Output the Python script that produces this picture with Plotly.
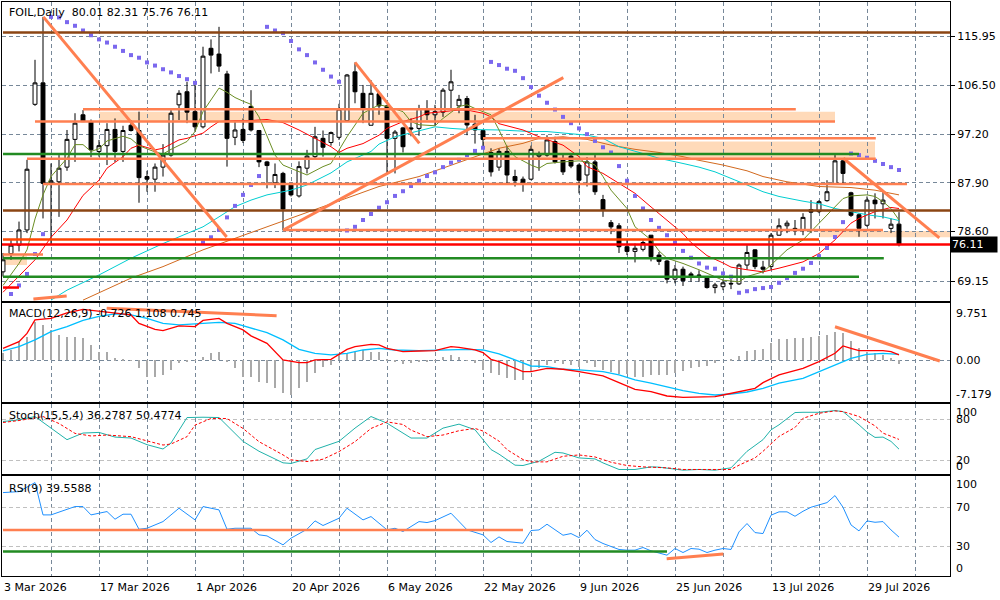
import plotly.graph_objects as go
from plotly.subplots import make_subplots

# ---------------- data ----------------
bars = list(range(113))
opens = [70.9, 74.4, 76.0, 78.9, 102.9, 107.0, 87.9, 88.1, 90.9, 96.2,
         100.9, 99.6, 93.9, 95.0, 98.1, 93.9, 98.9, 97.9, 89.1, 88.6,
         90.9, 93.2, 102.8, 105.3, 101.5, 98.6, 113.6, 112.5, 108.7, 96.6,
         98.1, 102.5, 97.9, 91.9, 87.9, 89.7, 87.5, 85.4, 90.7, 92.9,
         96.4, 95.6, 96.6, 99.8, 109.1, 105.0, 98.9, 104.9, 102.6, 96.4,
         98.4, 98.4, 98.3, 102.1, 100.9, 101.4, 105.6, 102.6, 104.0, 99.1,
         97.9, 93.7, 90.9, 93.9, 89.1, 88.6, 88.6, 93.0, 93.2, 95.8,
         92.3, 93.0, 91.3, 89.4, 91.9, 84.7, 80.3, 79.7, 75.7, 74.8,
         75.2, 77.9, 74.1, 72.97, 69.5, 71.4, 70.5, 70.3, 69.7, 67.9,
         68.07, 68.7, 68.6, 72.2, 75.1, 71.8, 71.9, 77.9, 79.7, 79.2,
         78.8, 82.8, 82.4, 84.5, 87.7, 92.1, 86.0, 81.8, 79.8, 84.6,
         83.9, 79.2, 80.01]
highs = [74.5, 77.0, 80.5, 92.3, 111.4, 119.6, 91.6, 93.2, 98.0, 101.2,
         101.8, 100.0, 96.1, 99.3, 100.2, 98.8, 99.9, 101.5, 90.2, 91.6,
         95.3, 101.8, 105.6, 107.2, 107.2, 113.9, 115.3, 117.7, 109.3, 99.6,
         100.2, 105.6, 98.0, 92.1, 91.6, 90.0, 87.9, 92.0, 94.2, 98.6,
         97.9, 97.7, 103.0, 108.7, 110.9, 106.6, 107.5, 104.9, 102.8, 98.0,
         98.6, 100.2, 102.8, 103.7, 102.8, 106.0, 109.5, 104.7, 104.5, 100.9,
         98.0, 94.5, 94.5, 95.0, 90.4, 89.1, 95.0, 93.9, 97.0, 96.7,
         93.5, 93.4, 91.6, 92.8, 93.2, 85.6, 80.8, 80.2, 77.0, 76.3,
         76.9, 77.9, 74.7, 73.2, 72.2, 71.9, 70.9, 71.2, 70.0, 68.8,
         69.5, 69.5, 72.5, 76.0, 75.2, 73.0, 78.3, 81.1, 80.7, 80.8,
         82.1, 84.6, 84.6, 88.4, 93.2, 92.4, 86.2, 82.1, 85.3, 85.9,
         86.2, 81.1, 82.31]
lows = [70.0, 73.2, 74.8, 78.3, 102.6, 81.1, 76.0, 81.4, 90.2, 91.9,
        99.5, 92.8, 92.9, 91.3, 91.9, 91.9, 97.7, 84.1, 86.2, 86.2,
        89.1, 92.9, 99.9, 99.3, 97.7, 98.3, 108.8, 109.1, 91.0, 95.1,
        95.5, 97.7, 90.9, 86.85, 86.9, 78.8, 85.3, 85.1, 89.7, 92.3,
        92.9, 95.0, 96.1, 99.6, 103.1, 99.3, 98.9, 100.9, 89.4, 89.7,
        93.7, 96.8, 96.9, 99.9, 98.8, 100.5, 102.1, 101.2, 97.0, 95.4,
        94.8, 89.1, 90.2, 87.8, 87.2, 86.2, 88.4, 90.2, 92.9, 91.6,
        89.4, 90.7, 85.9, 87.2, 85.6, 81.4, 78.1, 74.5, 74.1, 72.7,
        74.8, 72.9, 72.2, 68.7, 68.7, 68.2, 69.0, 69.0, 67.7, 66.8,
        67.4, 67.6, 68.4, 71.3, 71.4, 70.6, 71.3, 77.8, 78.3, 77.9,
        77.9, 78.3, 82.1, 84.3, 87.5, 87.7, 81.4, 77.6, 79.5, 81.1,
        81.1, 78.3, 75.76]
closes = [73.2, 76.0, 78.9, 90.5, 107.0, 87.8, 88.3, 90.7, 96.2, 99.3,
          99.6, 94.2, 95.0, 98.1, 93.9, 97.9, 97.9, 88.9, 88.6, 90.9,
          93.2, 101.2, 105.0, 101.4, 98.6, 112.1, 112.3, 110.2, 96.4, 98.0,
          96.0, 98.0, 91.9, 91.2, 89.5, 82.9, 85.6, 91.0, 93.0, 96.7,
          94.7, 97.5, 102.0, 108.5, 105.3, 101.9, 105.0, 102.6, 96.4, 97.6,
          94.8, 98.2, 102.1, 100.9, 101.5, 105.6, 107.2, 103.85, 98.95, 98.0,
          96.2, 90.0, 93.9, 89.4, 88.3, 87.9, 94.3, 93.4, 96.1, 91.9,
          90.0, 91.1, 88.4, 91.9, 86.2, 82.7, 79.5, 75.7, 74.8, 75.4,
          76.5, 73.8, 72.9, 69.5, 71.4, 69.2, 70.0, 70.2, 67.9, 68.4,
          68.8, 68.6, 72.2, 74.6, 71.9, 71.4, 77.9, 79.7, 80.2, 79.1,
          81.3, 82.3, 84.3, 86.2, 92.1, 89.7, 81.7, 79.2, 84.6, 83.9,
          84.6, 80.0, 76.11]
last_price = 76.11

date_tick_bars = [0, 12, 24, 36, 48, 60, 72, 84, 96, 108]
date_tick_labels = ["3 Mar 2026", "17 Mar 2026", "1 Apr 2026", "20 Apr 2026", "6 May 2026",
                    "22 May 2026", "9 Jun 2026", "25 Jun 2026", "13 Jul 2026", "29 Jul 2026"]
grid_bars = list(range(0, 119, 6))

price_ticks = [115.95, 106.50, 97.20, 87.90, 78.60, 69.15]
price_tick_labels = ["115.95", "106.50", "97.20", "87.90", "78.60", "69.15"]

# moving averages (bar, value)
ma_fast_bars = [0, 2, 3, 4, 5, 6, 8, 9, 10, 11, 12, 13, 15, 16, 17, 19, 20, 21, 23, 24, 25, 26, 27, 28, 29, 30,
                31, 32, 33, 34, 35, 36, 38, 39, 40, 41, 43, 45, 47, 48, 50, 51, 52, 54, 55, 57, 58, 59, 61, 62,
                63, 64, 66, 67, 68, 70, 72, 73, 74, 75, 76, 78, 79, 81, 82, 83, 85, 87, 89, 90, 92, 93, 95, 96,
                98, 100, 101, 102, 104, 105, 106, 108, 109, 110, 111, 112]
ma_fast_vals = [68.3, 72.5, 75.1, 81.0, 85.6, 89.1, 92.6, 95.2, 95.2, 93.9, 94.4, 95.9, 96.8, 96.3, 95.0, 93.8,
                93.4, 94.3, 95.8, 97.7, 101.5, 103.7, 106.0, 105.2, 104.2, 103.5, 102.9, 100.5, 96.7, 93.2, 91.3,
                90.7, 89.4, 90.2, 91.0, 91.6, 96.7, 101.2, 102.8, 102.5, 101.5, 99.6, 99.0, 98.8, 100.2, 102.5,
                102.8, 102.1, 100.9, 98.0, 94.8, 92.9, 91.3, 90.7, 91.6, 91.9, 92.1, 91.9, 91.3, 89.1, 86.5, 83.0,
                79.5, 77.0, 74.9, 73.5, 72.5, 71.3, 70.0, 69.3, 69.0, 70.0, 70.9, 72.2, 75.1, 77.0, 78.6, 80.2,
                83.4, 84.9, 85.4, 85.6, 85.3, 84.3, 83.0, 80.8]
ma_mid_bars = [0, 2, 4, 6, 8, 10, 12, 13, 15, 16, 17, 19, 20, 22, 23, 25, 26, 27, 29, 31, 33, 35, 37, 39, 41, 42,
               43, 45, 47, 48, 50, 52, 53, 55, 57, 58, 60, 61, 62, 65, 67, 70, 72, 73, 75, 77, 79, 81, 83, 85,
               86, 88, 90, 91, 93, 95, 97, 100, 102, 104, 106, 107, 109, 111, 112]
ma_mid_vals = [67.0, 70.0, 73.2, 77.5, 80.8, 85.5, 88.4, 90.7, 92.9, 94.5, 95.1, 94.2, 94.5, 96.1, 96.4, 97.4,
               98.6, 99.6, 99.8, 99.8, 100.0, 99.4, 98.0, 96.4, 94.8, 93.7, 94.5, 95.4, 97.0, 98.3, 99.6, 100.5,
               101.2, 101.5, 101.8, 101.8, 101.2, 100.5, 99.2, 98.0, 96.7, 95.1, 92.9, 91.0, 89.7, 87.8, 85.9,
               83.3, 80.8, 78.2, 76.5, 74.0, 72.6, 71.8, 71.3, 70.9, 71.6, 72.8, 74.4, 77.0, 80.2, 81.1, 82.4,
               83.2, 83.0]
ma_slow_bars = [6, 8, 12, 16, 20, 25, 27, 29, 31, 33, 36, 38, 41, 43, 46, 47, 49, 52, 54, 56, 58, 62, 66, 68, 70,
                73, 75, 77, 80, 82, 85, 87, 89, 91, 93, 95, 97, 100, 102, 104, 106, 108, 110, 112]
ma_slow_vals = [65.5, 67.4, 70.3, 73.5, 76.3, 79.5, 81.4, 83.35, 84.6, 85.6, 86.5, 87.5, 89.8, 91.9, 93.9, 95.3,
                96.7, 97.9, 98.6, 98.3, 98.1, 98.0, 97.7, 97.7, 97.4, 97.0, 96.4, 94.8, 93.5, 92.6, 91.6, 90.9,
                90.0, 88.8, 87.5, 86.2, 85.3, 84.4, 83.9, 83.0, 82.4, 81.8, 81.4, 80.7]
ma_long_bars = [10, 16, 20, 25, 29, 31, 35, 39, 43, 47, 52, 56, 60, 62, 65, 67, 70, 73, 76, 79, 82, 85, 87, 90,
                93, 95, 98, 102, 106, 109, 112]
ma_long_vals = [65.5, 69.7, 71.9, 75.1, 77.3, 78.4, 80.5, 82.7, 84.9, 87.2, 89.1, 91.3, 93.5, 94.5, 95.45, 96.4,
                96.7, 96.2, 95.1, 94.3, 93.7, 92.9, 92.2, 91.3, 90.2, 89.1, 88.1, 87.2, 87.0, 86.5, 85.6]

# parabolic SAR dots
sar_bars = list(range(1, 113))
sar_vals = [66.67, 68.3, 70.5, 74.3, 78.1,
            119.6, 119.5, 118.6, 117.9, 117.0, 116.1, 115.3, 114.7, 113.9, 113.1, 112.3, 111.8, 110.9, 110.3,
            109.6, 109.0, 108.3, 107.7, 107.0,
            76.5, 77.5, 78.9, 81.3, 83.5, 85.6, 87.5, 89.2,
            117.7, 117.0, 116.5, 115.0, 113.4, 112.3, 110.9, 109.5, 108.2, 107.2,
            78.8, 79.5, 80.8, 81.95, 83.15, 84.2, 85.4, 86.3, 87.3, 88.3, 89.2, 89.9, 90.9, 91.75, 92.3, 93.2,
            94.0, 94.6,
            111.0, 110.4, 109.7, 109.3, 107.9, 106.2, 104.55, 103.2, 101.9, 100.5, 99.3, 98.3, 97.2, 95.9,
            94.7, 93.7, 91.1, 88.3, 85.4, 83.0, 80.8, 79.3, 77.9, 76.5, 74.9, 73.6, 72.5, 71.7, 71.5, 70.6,
            69.97,
            66.9, 67.2, 67.6, 67.8, 68.0, 68.8, 69.7, 70.7, 71.5, 72.6, 73.9, 75.45, 77.55, 80.4,
            93.5, 93.2, 92.7, 92.1, 91.5, 90.9, 90.35]

# MACD
macd_hist = [1.5, 2.07, 3.75, 4.75, 7.76, 7.09, 6.09, 5.08, 4.75, 4.75,
             4.4, 3.08, 1.74, 1.6, 0.4, 0.07, -0.07, -1.6, -3.28, -3.28,
             -2.94, -1.94, -0.6, -0.27, -0.13, 0.6, 1.54, 1.74, -0.27, -1.6,
             -3.28, -3.28, -4.28, -4.6, -5.6, -6.5, -6.96, -5.6, -4.28, -2.6,
             -1.27, -0.94, 1.07, 1.4, 1.74, 2.07, 1.74, 1.74, 0.2, -0.27,
             -0.8, -0.6, -0.27, -0.27, -0.13, 0.6, 1.07, 0.74, -0.07, -0.6,
             -1.94, -2.6, -2.94, -3.48, -3.95, -3.95, -2.27, -1.6, -0.94, -0.6,
             -0.8, -0.94, -1.27, -0.6, -1.27, -1.94, -2.27, -2.74, -2.74, -3.41,
             -3.28, -2.94, -2.94, -2.94, -2.6, -2.14, -1.6, -1.27, -1.07, -0.6,
             0.0, 0.2, 0.87, 1.94, 2.07, 2.27, 3.41, 4.21, 4.21, 4.4,
             4.4, 4.6, 4.9, 5.08, 5.75, 5.4, 3.88, 2.4, 1.74, 1.4,
             1.07, 0.4, -0.726]
macd_red_bars = [0, 2, 3, 4, 6, 8, 10, 12, 14, 16, 17, 19, 20, 22, 24, 25, 27, 28, 30, 31, 33, 34, 35, 37, 38,
                 39, 41, 43, 44, 46, 47, 48, 50, 52, 54, 56, 57, 59, 60, 61, 62, 65, 66, 68, 70, 72, 75, 77,
                 79, 81, 83, 85, 87, 89, 90, 92, 94, 95, 97, 100, 102, 104, 105, 106, 107, 110, 111, 112]
macd_red_vals = [2.4, 3.75, 5.4, 8.1, 8.4, 9.5, 10.2, 9.8, 9.4, 9.1, 7.4, 6.2, 5.95, 6.9, 6.76, 8.0, 8.4, 7.4,
                 6.1, 4.9, 3.4, 1.74, 0.07, -0.47, -0.47, 0.07, 0.2, 2.2, 2.74, 3.2, 3.08, 2.4, 1.74, 1.87,
                 1.94, 2.74, 2.6, 2.07, 1.54, 0.2, -0.27, -2.27, -2.27, -1.6, -1.8, -2.27, -3.14, -4.48, -5.82,
                 -6.29, -7.16, -7.43, -7.43, -7.29, -6.96, -6.29, -5.62, -4.48, -2.94, -1.6, -0.27, 1.4, 2.88,
                 2.4, 1.94, 1.94, 1.74, 1.108]
macd_blue_bars = [0, 2, 4, 6, 8, 10, 12, 14, 16, 18, 20, 22, 24, 27, 29, 31, 33, 35, 37, 39, 41, 43, 45, 47, 49,
                  52, 54, 56, 58, 60, 62, 64, 66, 68, 70, 72, 75, 77, 79, 81, 83, 85, 87, 89, 91, 93, 95, 97,
                  100, 102, 104, 106, 108, 110, 112]
macd_blue_vals = [1.87, 2.74, 4.1, 5.75, 6.76, 8.0, 8.8, 9.3, 9.1, 8.4, 7.4, 7.1, 7.3, 7.6, 7.4, 6.4, 5.55, 4.1,
                  2.2, 1.4, 1.07, 1.4, 2.07, 2.4, 2.07, 1.94, 2.07, 2.2, 2.2, 2.07, 1.3, 0.07, -1.14, -1.27,
                  -1.8, -1.94, -2.27, -2.94, -3.95, -4.6, -5.42, -6.09, -6.62, -6.96, -6.76, -6.36, -5.62, -4.6,
                  -3.61, -2.27, -0.94, 0.4, 1.2, 1.4, 1.2]
macd_tick_vals = [9.751, 0.0, -7.179]
macd_tick_labels = ["9.751", "0.00", "-7.179"]

# Stochastic
stoch_main_bars = [0, 2, 4, 6, 8, 10, 12, 14, 16, 18, 20, 21, 23, 25, 27, 30, 32, 35, 36, 38, 39, 42, 44, 46,
                   48, 51, 53, 55, 57, 59, 61, 62, 64, 65, 67, 69, 70, 72, 74, 75, 77, 79, 81, 82, 84, 85, 87,
                   89, 91, 93, 95, 96, 97, 99, 100, 102, 104, 105, 107, 108, 109, 110, 111, 112]
stoch_main_vals = [76.6, 79.0, 83.9, 67.0, 50.1, 59.8, 60.7, 53.9, 52.5, 42.8, 36.5, 45.2, 82.4, 82.9, 82.4,
                   47.7, 33.2, 16.3, 15.4, 22.1, 35.7, 47.7, 67.0, 83.9, 74.2, 52.5, 52.5, 67.0, 72.8, 64.6,
                   35.7, 29.0, 12.9, 12.4, 18.7, 31.7, 30.7, 23.5, 22.0, 16.2, 6.6, 6.6, 10.4, 10.0, 6.6, 5.6,
                   6.6, 5.6, 9.0, 33.1, 50.1, 64.5, 71.8, 89.7, 90.1, 90.1, 92.6, 91.1, 71.8, 61.2, 53.4, 53.9,
                   47.6, 36.28]
stoch_sig_bars = [0, 2, 5, 7, 9, 11, 13, 16, 20, 21, 23, 24, 26, 28, 30, 32, 35, 36, 38, 40, 42, 44, 46, 48, 50,
                  51, 53, 55, 57, 59, 60, 62, 63, 65, 66, 68, 70, 72, 74, 76, 78, 80, 83, 85, 88, 91, 92, 94,
                  95, 97, 99, 100, 102, 104, 105, 107, 109, 110, 112]
stoch_sig_vals = [75.2, 78.1, 83.9, 73.7, 59.3, 55.5, 56.9, 54.5, 42.3, 43.8, 54.5, 71.4, 81.0, 81.0, 66.5,
                  47.2, 27.9, 20.7, 18.2, 21.6, 32.7, 47.2, 66.5, 76.1, 72.3, 64.1, 54.5, 56.9, 63.2, 66.5,
                  62.7, 48.0, 35.6, 21.1, 17.7, 17.7, 25.9, 27.8, 24.9, 17.2, 12.4, 10.4, 9.0, 6.6, 6.6, 6.6,
                  12.9, 23.5, 33.1, 54.9, 67.9, 81.4, 88.7, 92.1, 91.1, 83.9, 70.3, 59.7, 50.48]
stoch_levels = [80, 20]
stoch_labels = [100, 80, 20, 0]

# RSI
rsi_bars = [0, 2, 4, 5, 6, 8, 9, 10, 11, 13, 14, 15, 16, 17, 18, 20, 22, 24, 25, 27, 28, 29, 31, 32, 33, 35, 36,
            38, 39, 40, 41, 42, 43, 45, 46, 48, 49, 50, 52, 53, 54, 56, 58, 60, 61, 62, 63, 65, 66, 67, 68, 70,
            71, 72, 73, 74, 75, 77, 78, 79, 80, 81, 83, 84, 85, 86, 87, 88, 89, 90, 91, 92, 93, 94, 95, 96, 97,
            98, 99, 100, 101, 103, 104, 105, 106, 107, 108, 109, 110, 111, 112]
rsi_vals = [84.9, 85.9, 95.1, 62.2, 62.2, 68.0, 70.7, 70.7, 62.2, 65.6, 57.8, 62.9, 62.9, 47.6, 48.6, 55.4,
            69.0, 57.1, 70.7, 67.3, 47.6, 48.6, 48.6, 41.9, 40.8, 31.7, 38.5, 47.6, 56.1, 51.4, 55.4, 58.8,
            69.0, 57.1, 60.5, 47.0, 48.6, 45.3, 55.4, 54.4, 56.4, 63.9, 47.0, 41.9, 34.1, 39.8, 35.1, 33.4,
            46.3, 46.9, 52.7, 41.5, 43.2, 39.1, 46.6, 37.1, 33.1, 27.0, 26.3, 26.3, 29.0, 25.6, 21.2, 28.0,
            23.9, 28.0, 27.3, 23.9, 26.3, 28.0, 27.0, 44.9, 53.4, 44.2, 43.2, 61.9, 65.3, 65.3, 60.8, 65.9,
            70.0, 74.7, 81.9, 70.0, 52.0, 45.9, 56.1, 54.7, 55.4, 46.9, 39.56]
rsi_levels = [70, 30]
rsi_labels = [100, 70, 30, 0]

# drawn objects: horizontal levels (price, from bar, to bar, kind)
level_prices = [116.6, 101.95, 99.6, 96.4, 93.4, 92.5, 87.7, 82.6, 78.9, 77.1, 73.5, 69.97, 74.2, 67.9]
level_from = [0, 10.0, 4.0, 60.0, 0, 3.0, 5.0, 0, 35.0, 0, 0, 0, 0, 0]
level_to = [118.375, 99.1, 104.0, 109.1, 107.0, 109.1, 113.0, 118.375, 110.0, 102.0, 110.1, 107.0, 5.0, 2.0]
level_kind = ["brown", "coral", "coral", "coral", "green", "coral", "coral", "brown", "coral", "orangered",
              "green", "green", "coral", "red"]
zone_top = [101.5, 95.8, 78.7, 74.0]
zone_bottom = [99.6, 92.6, 77.5, 72.2]
zone_from = [12.0, 60.0, 102.1, 0]
zone_to = [104.0, 109.0, 118.375, 3.0]
trend_x0 = [5.04, 44.0, 35.04, 105.04, 3.8]
trend_y0 = [119.6, 110.9, 78.9, 92.6, 65.7]
trend_x1 = [27.96, 52.04, 70.04, 117.04, 7.96]
trend_y1 = [77.55, 95.45, 107.99, 77.4, 66.3]
macd_trend_x0 = [12.96, 104.0]
macd_trend_y0 = [10.43, 6.74]
macd_trend_x1 = [34.2, 117.1]
macd_trend_y1 = [8.95, -0.14]
rsi_line_vals = [46.9, 24.9]
rsi_line_from = [0, 0]
rsi_line_to = [65.0, 83.0]
rsi_line_kind = ["coral", "green"]
rsi_trend_x0, rsi_trend_y0, rsi_trend_x1, rsi_trend_y1 = 82.96, 17.5, 90.04, 22.5

title_text = "FOIL,Daily\u00a0\u00a080.01 82.31 75.76 76.11"
macd_text = "MACD(12,26,9) -0.726 1.108 0.745"
stoch_text = "Stoch(15,5,4) 36.2787 50.4774"
rsi_text = "RSI(9) 39.5588"

# ---------------- styles ----------------
COL = {"brown": "#8B4513", "coral": "#FF7F50", "green": "#228B22", "orangered": "#FF4500", "red": "#FF0000"}
ZONE_FILL = "#FFDAB9"
FONT = "DejaVu Sans"
GRID = "#778899"
LIGHTGRID = "#C0C0C0"
X_RANGE = [-0.125, 118.375]

fig = make_subplots(rows=4, cols=1, shared_xaxes=True, vertical_spacing=0.01)

fig.add_trace(go.Candlestick(
    x=bars, open=opens, high=highs, low=lows, close=closes,
    increasing=dict(line=dict(color="black", width=1), fillcolor="white"),
    decreasing=dict(line=dict(color="black", width=1), fillcolor="black"),
    whiskerwidth=0, hoverinfo="skip"), row=1, col=1)

for bx, vy, c in [(ma_long_bars, ma_long_vals, "#D2691E"), (ma_slow_bars, ma_slow_vals, "#00CED1"),
                  (ma_mid_bars, ma_mid_vals, "#FF0000"), (ma_fast_bars, ma_fast_vals, "#6B8E23")]:
    fig.add_trace(go.Scatter(x=bx, y=vy, mode="lines", line=dict(color=c, width=1)), row=1, col=1)

fig.add_trace(go.Scatter(x=sar_bars, y=sar_vals, mode="markers",
                         marker=dict(symbol="square", size=4, color="#7B68EE")), row=1, col=1)

fig.add_trace(go.Bar(x=bars, y=macd_hist, width=0.16, marker=dict(color="#A9A9A9", line=dict(width=0))),
              row=2, col=1)
fig.add_trace(go.Scatter(x=macd_blue_bars, y=macd_blue_vals, mode="lines", line=dict(color="#00BFFF", width=1.3)),
              row=2, col=1)
fig.add_trace(go.Scatter(x=macd_red_bars, y=macd_red_vals, mode="lines", line=dict(color="#FF0000", width=1.3)),
              row=2, col=1)

fig.add_trace(go.Scatter(x=stoch_main_bars, y=stoch_main_vals, mode="lines",
                         line=dict(color="#20B2AA", width=1)), row=3, col=1)
fig.add_trace(go.Scatter(x=stoch_sig_bars, y=stoch_sig_vals, mode="lines",
                         line=dict(color="#FF0000", width=1, dash="3px,2px")), row=3, col=1)

fig.add_trace(go.Scatter(x=rsi_bars, y=rsi_vals, mode="lines", line=dict(color="#1E90FF", width=1)),
              row=4, col=1)

shapes = []
for t, b, x0, x1 in zip(zone_top, zone_bottom, zone_from, zone_to):
    shapes.append(dict(type="rect", xref="x", yref="y", x0=x0, x1=x1, y0=b, y1=t,
                       fillcolor=ZONE_FILL, line=dict(width=0), layer="below"))
for p, x0, x1, k in zip(level_prices, level_from, level_to, level_kind):
    shapes.append(dict(type="line", xref="x", yref="y", x0=x0, x1=x1, y0=p, y1=p,
                       line=dict(color=COL[k], width=2.5), layer="above"))
shapes.append(dict(type="line", xref="x", yref="y", x0=X_RANGE[0], x1=X_RANGE[1], y0=last_price, y1=last_price,
                   line=dict(color=COL["red"], width=2.5), layer="above"))
for x0, y0, x1, y1 in zip(trend_x0, trend_y0, trend_x1, trend_y1):
    shapes.append(dict(type="line", xref="x", yref="y", x0=x0, x1=x1, y0=y0, y1=y1,
                       line=dict(color=COL["coral"], width=3), layer="above"))
for x0, y0, x1, y1 in zip(macd_trend_x0, macd_trend_y0, macd_trend_x1, macd_trend_y1):
    shapes.append(dict(type="line", xref="x2", yref="y2", x0=x0, x1=x1, y0=y0, y1=y1,
                       line=dict(color=COL["coral"], width=3), layer="above"))
for v, x0, x1, k in zip(rsi_line_vals, rsi_line_from, rsi_line_to, rsi_line_kind):
    shapes.append(dict(type="line", xref="x4", yref="y4", x0=x0, x1=x1, y0=v, y1=v,
                       line=dict(color=COL[k], width=2.5), layer="above"))
shapes.append(dict(type="line", xref="x4", yref="y4", x0=rsi_trend_x0, x1=rsi_trend_x1,
                   y0=rsi_trend_y0, y1=rsi_trend_y1, line=dict(color=COL["coral"], width=3), layer="above"))

# ---------------- layout ----------------
W, H = 1000, 600
ML, MR, MT, MB = 2, 50, 2, 24
PH = H - MT - MB
PW = W - ML - MR


def py(y_pix):
    return (H - MB - y_pix) / PH


def px(x_pix):
    return (x_pix - ML) / PW


STOCH_RANGE = [0.0, 102.2]
RSI_RANGE = [0.0, 101.8]

annotations = []
for txt, ypix in [(title_text, 12.5), (macd_text, 313.5), (stoch_text, 415.5), (rsi_text, 488)]:
    annotations.append(dict(text=txt, xref="paper", yref="paper", x=px(7), y=py(ypix), xanchor="left",
                            yanchor="middle", showarrow=False, font=dict(family=FONT, size=11, color="black")))
for b, lab in zip(date_tick_bars, date_tick_labels):
    annotations.append(dict(text=lab, xref="x4", yref="paper", x=b, y=py(587), xanchor="left", xshift=-1,
                            yanchor="middle", showarrow=False, font=dict(family=FONT, size=11, color="black")))
for v, lab in zip(macd_tick_vals, macd_tick_labels):
    annotations.append(dict(text=lab, xref="paper", yref="y2", x=1, y=v, xanchor="left", xshift=4,
                            yshift=(-2 if v > 5 else (2 if v < -5 else 0)),
                            yanchor="middle", showarrow=False, font=dict(family=FONT, size=11, color="black")))


def panel_label(v, yref, lo, hi):
    # labels at the panel edges sit a little inside the frame, as in the terminal
    yv = min(max(v, lo + 0.5), hi - 0.5)
    shift = -7 if v >= 100 else (7 if v <= 0 else 0)
    return dict(text=str(v), xref="paper", yref=yref, x=1, y=yv, xanchor="left", xshift=4, yshift=shift,
                yanchor="middle", showarrow=False, font=dict(family=FONT, size=11, color="black"))


for v in stoch_labels:
    annotations.append(panel_label(v, "y3", *STOCH_RANGE))
for v in rsi_labels:
    annotations.append(panel_label(v, "y4", *RSI_RANGE))
annotations.append(dict(text=f"{last_price:.2f}", xref="paper", yref="y", x=1, y=last_price, xanchor="left",
                        yanchor="middle", showarrow=False, bgcolor="black", width=44, align="left",
                        borderpad=1, font=dict(family=FONT, size=11, color="white")))

axis_common = dict(showline=True, mirror=True, linecolor="black", linewidth=1, zeroline=False)
xaxis_common = dict(axis_common, range=X_RANGE, tickvals=grid_bars, showticklabels=False, showgrid=True,
                    gridcolor=GRID, griddash="4px,3px", gridwidth=1, ticks="")

fig.update_layout(
    width=W, height=H, margin=dict(l=ML, r=MR, t=MT, b=MB),
    paper_bgcolor="white", plot_bgcolor="white", showlegend=False,
    font=dict(family=FONT, size=11, color="black"),
    bargap=0, shapes=shapes, annotations=annotations,
    xaxis=dict(xaxis_common, rangeslider=dict(visible=False)),
    xaxis2=dict(xaxis_common), xaxis3=dict(xaxis_common), xaxis4=dict(xaxis_common),
    yaxis=dict(axis_common, domain=[py(301), 1.0], range=[65.33, 122.445], side="right",
               tickvals=price_ticks, ticktext=price_tick_labels, ticks="outside", ticklen=4, tickcolor="black",
               showgrid=True, gridcolor=GRID, griddash="4px,3px", tickfont=dict(family=FONT, size=11)),
    yaxis2=dict(axis_common, domain=[py(402), py(303)], range=[-8.365, 11.494], side="right",
                tickvals=[0], showticklabels=False, ticks="", showgrid=True, gridcolor=GRID,
                griddash="4px,3px"),
    yaxis3=dict(axis_common, domain=[py(474), py(404)], range=STOCH_RANGE, side="right",
                tickvals=stoch_levels, showticklabels=False, ticks="", showgrid=True, gridcolor=LIGHTGRID,
                griddash="4px,3px"),
    yaxis4=dict(axis_common, domain=[0.0, py(476)], range=RSI_RANGE, side="right",
                tickvals=rsi_levels, showticklabels=False, ticks="", showgrid=True, gridcolor=LIGHTGRID,
                griddash="4px,3px"),
)

fig.write_html("out.html", config={"displayModeBar": False},
               post_script="document.body.style.margin='0px';document.body.style.overflow='hidden';")
